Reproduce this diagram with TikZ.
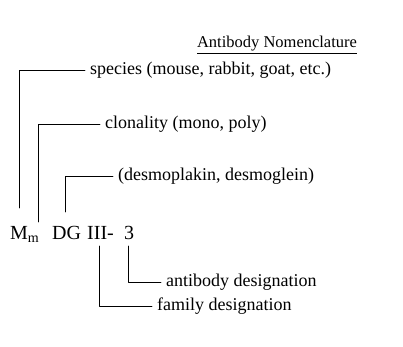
\documentclass[tikz,border=0pt]{standalone}
\usepackage{fontspec}
\setmainfont{Liberation Serif}
\begin{document}
\begin{tikzpicture}[x=1pt,y=-1pt,line join=round,line cap=round,
  font=\fontsize{18}{21}\selectfont,
  lbl/.style={anchor=west,inner xsep=5pt,inner ysep=0pt},
  part/.style={anchor=base west,inner sep=0pt,font=\fontsize{20}{24}\selectfont},
  lead/.style={line width=0.7pt}]
 \useasboundingbox (0,0) rectangle (403,346);
 \node[font=\fontsize{16.5}{20}\selectfont] (title) at (277,45) {\underline{Antibody Nomenclature}};
 % the name and its parts
 \node[part] (M) at (10,239) {M\textsubscript{m}};
 \node[part] (DG) at (52,239) {DG};
 \node[part] (III) at (87,239) {III-};
 \node[part] (three) at (124,239) {3};
 % labels
 \node[lbl] (species) at (85,70) {species (mouse, rabbit, goat, etc.)};
 \node[lbl] (clonality) at (100,124) {clonality (mono, poly)};
 \node[lbl] (desmo) at (113,176) {(desmoplakin, desmoglein)};
 \node[lbl] (antibody) at (161,282) {antibody designation};
 \node[lbl] (family) at (152,306) {family designation};
 % free ends of the leads
 \coordinate (spEnd) at (19,208);
 \coordinate (clEnd) at (38,222);
 \coordinate (dsEnd) at (65,212);
 \coordinate (faEnd) at (99,246);
 \coordinate (abEnd) at (128,246);
 \draw[lead] (species.west) -| (spEnd);
 \draw[lead] (clonality.west) -| (clEnd);
 \draw[lead] (desmo.west) -| (dsEnd);
 \draw[lead] (antibody.west) -| (abEnd);
 \draw[lead] (family.west) -| (faEnd);
\end{tikzpicture}
\end{document}
